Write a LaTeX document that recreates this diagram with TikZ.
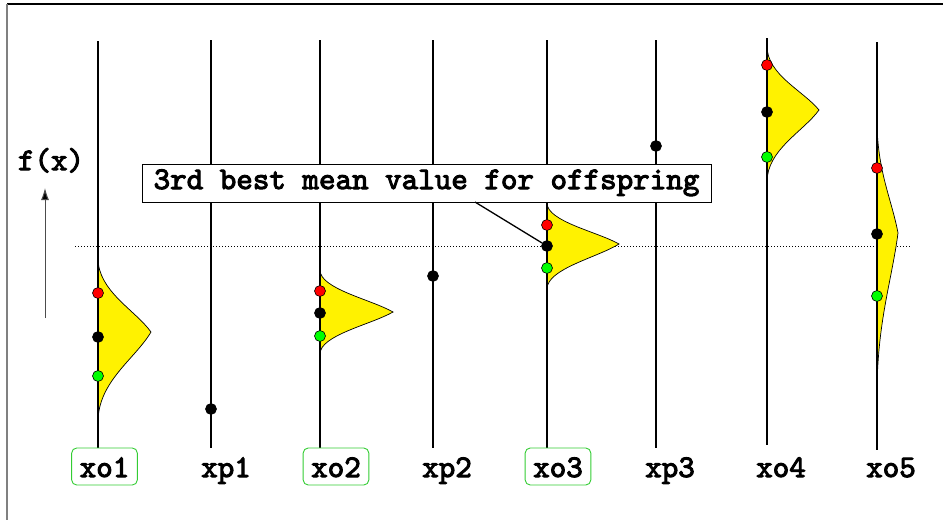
\documentclass[tikz,border=0pt]{standalone}
\usepackage{fontspec}
\newfontfamily\typefont{lmmono10-regular.otf}[AutoFakeBold=3.2]
\usetikzlibrary{arrows.meta}
\definecolor{boxgreen}{HTML}{33CC33}
\definecolor{dotgreen}{HTML}{00FF00}
\definecolor{framegrey}{HTML}{808080}

% skewed density drawn to the right of an axis:
% #1 axis x, #2 top end, #3 peak y, #4 peak width, #5 bottom end
\newcommand\densitycurve[5]{%
  \filldraw[density] (#1,#2)
    .. controls ({#1},{#2+0.45*(#3-#2)}) and ({#1+0.7*#4},{#3-0.3*(#3-#2)}) .. ({#1+#4},#3)
    .. controls ({#1+0.7*#4},{#3+0.3*(#5-#3)}) and ({#1},{#5-0.45*(#5-#3)}) .. (#1,#5) -- cycle;}
\newcommand\labelfont{\typefont\bfseries\fontsize{31.5}{34}\selectfont}

\begin{document}
\begin{tikzpicture}[x=1pt,y=-1pt,
  axis/.style={line width=1.8pt,black},
  density/.style={fill=yellow,draw=black,line width=0.7pt},
  dot/.style={circle,draw=black,line width=0.6pt,minimum size=11pt,inner sep=0pt},
  lbl/.style={font=\labelfont,text height=21pt,text depth=0pt,
              inner xsep=8pt,inner ysep=0pt,minimum height=37pt,minimum width=65pt},
  chosen/.style={lbl,draw=boxgreen,line width=0.9pt,rounded corners=5pt},
  callout/.style={font=\labelfont,text height=18pt,text depth=6pt,
              draw=black,line width=1pt,fill=white,inner xsep=0pt,inner ysep=0pt,
              minimum height=38pt,minimum width=569pt}]
\useasboundingbox (0,0) rectangle (943,520);

% frame edges
\coordinate (fl) at (7,4);
\coordinate (fr) at (943,4);
\coordinate (fb) at (7,520);
\draw[line width=1.5pt] (fl) -- (fr);
\draw[framegrey,line width=2pt] (fl) -- (fb);

% threshold line
\coordinate (th1) at (75,246);
\coordinate (th2) at (910,246);
\draw[line width=1pt,dash pattern=on 1pt off 2pt] (th1) -- (th2);

% densities of the offspring
\densitycurve{98}{258}{332}{53}{422}
\densitycurve{320}{270}{312}{73}{354}
\densitycurve{547}{203}{244}{72}{289}
\densitycurve{767}{46}{110}{52}{182}
\densitycurve{877}{120}{233}{21}{395}

% axes
\foreach \n/\x/\t/\b in {1/98/41/448, 2/211/40/448, 3/320/40/448, 4/433/40/448,
                         5/547/40/448, 6/656/40/448, 7/767/38/445, 8/877/42/450}{
  \coordinate (a\n t) at (\x,\t);
  \coordinate (a\n b) at (\x,\b);
  \draw[axis] (a\n t) -- (a\n b);
}

% callout
\node[callout] (note) at (426.5,183) {3rd best mean value for offspring};
\coordinate (ptr) at (475,202);

% points
\node[dot,fill=red]      (o1r) at (98,293) {};
\node[dot,fill=black]    (o1m) at (98,337) {};
\node[dot,fill=dotgreen] (o1g) at (98,376) {};
\node[dot,fill=black]    (p1m) at (211,409) {};
\node[dot,fill=red]      (o2r) at (320,291) {};
\node[dot,fill=black]    (o2m) at (320,313) {};
\node[dot,fill=dotgreen] (o2g) at (320,336) {};
\node[dot,fill=black]    (p2m) at (433,276) {};
\node[dot,fill=red]      (o3r) at (547,225) {};
\node[dot,fill=black]    (o3m) at (547,246) {};
\node[dot,fill=dotgreen] (o3g) at (547,268) {};
\node[dot,fill=black]    (p3m) at (656,146) {};
\node[dot,fill=red]      (o4r) at (767,65) {};
\node[dot,fill=black]    (o4m) at (767,112) {};
\node[dot,fill=dotgreen] (o4g) at (767,157) {};
\node[dot,fill=red]      (o5r) at (877,168) {};
\node[dot,fill=black]    (o5m) at (877,234) {};
\node[dot,fill=dotgreen] (o5g) at (877,296) {};

\draw[line width=1.3pt] (ptr) -- (o3m);

% labels
\node[chosen] (l1) at (104.5,466.5) {xo1};
\node[lbl]    (l2) at (226,466.5)   {xp1};
\node[chosen] (l3) at (336,466.5)   {xo2};
\node[lbl]    (l4) at (447,466.5)   {xp2};
\node[chosen] (l5) at (558,466.5)   {xo3};
\node[lbl]    (l6) at (670,466.5)   {xp3};
\node[lbl]    (l7) at (781,466.5)   {xo4};
\node[lbl]    (l8) at (891,466.5)   {xo5};

% fitness direction
\node[font=\labelfont,anchor=base] (fx) at (51,170) {f(x)};
\coordinate (ar1) at (45,318);
\coordinate (ar2) at (45,188);
\draw[line width=1pt,draw=black!70,-{Latex[length=12pt,width=8pt,fill=black]}] (ar1) -- (ar2);
\end{tikzpicture}
\end{document}
